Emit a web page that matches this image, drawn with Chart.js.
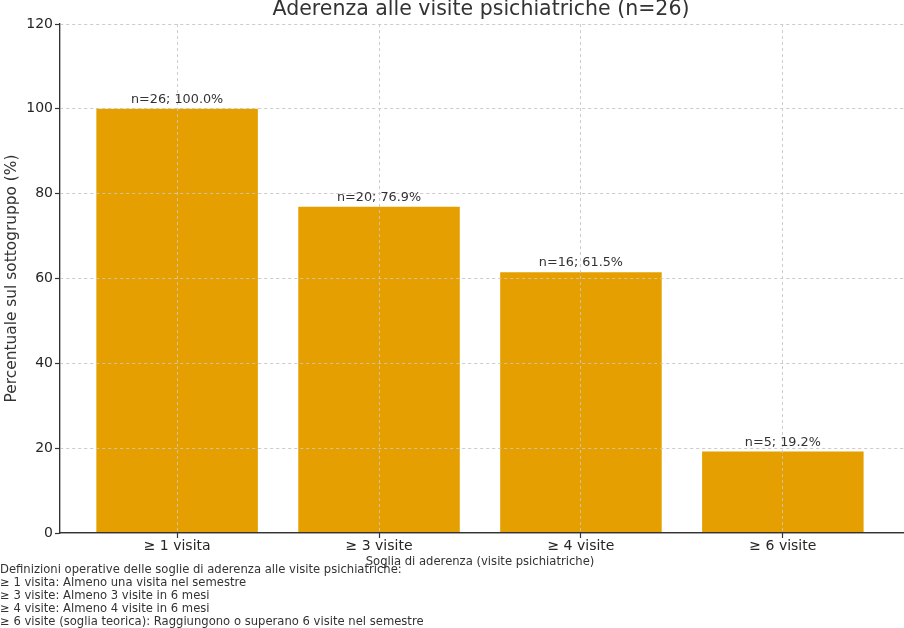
<!DOCTYPE html>
<html lang="it">
<head>
<meta charset="utf-8">
<title>Aderenza alle visite psichiatriche</title>
<script src="https://cdn.jsdelivr.net/npm/chart.js@4.4.1/dist/chart.umd.min.js"></script>
<style>
  html, body { margin: 0; padding: 0; background: #ffffff; }
  #wrap { width: 904px; height: 628px; }
</style>
</head>
<body>
<div id="wrap"><canvas id="c" width="904" height="628"></canvas></div>
<script>
const categories = ["≥ 1 visita", "≥ 3 visite", "≥ 4 visite", "≥ 6 visite"];
const counts = [26, 20, 16, 5];
const percentages = [100.0, 76.9, 61.5, 19.2];
const yTicks = [0, 20, 40, 60, 80, 100, 120];
const chartTitle = "Aderenza alle visite psichiatriche (n=26)";
const xTitle = "Soglia di aderenza (visite psichiatriche)";
const yTitle = "Percentuale sul sottogruppo (%)";
const footnoteLines = [
  "Definizioni operative delle soglie di aderenza alle visite psichiatriche:",
  "≥ 1 visita: Almeno una visita nel semestre",
  "≥ 3 visite: Almeno 3 visite in 6 mesi",
  "≥ 4 visite: Almeno 4 visite in 6 mesi",
  "≥ 6 visite (soglia teorica): Raggiungono o superano 6 visite nel semestre"
];

const FONT = "'DejaVu Sans', sans-serif";
const TEXT = "#333333";
const BAR = "#E69F00";

const barData = categories.map((c, i) => ({ x: i, y: percentages[i] }));

const overlayPlugin = {
  id: 'overlay',
  afterDatasetsDraw(chart) {
    const ctx = chart.ctx;
    // redraw grid on top of bars (as in the reference)
    ['x', 'y'].forEach(id => {
      const s = chart.scales[id];
      s.drawGrid(chart.chartArea);
      s.drawBorder();
    });
    // value labels above bars
    const meta = chart.getDatasetMeta(0);
    ctx.save();
    ctx.fillStyle = TEXT;
    ctx.font = "12.8px " + FONT;
    ctx.textAlign = 'center';
    ctx.textBaseline = 'alphabetic';
    meta.data.forEach((el, i) => {
      ctx.fillText('n=' + counts[i] + '; ' + percentages[i].toFixed(1) + '%', el.x, el.y - 6);
    });
    ctx.restore();
  },
  afterDraw(chart) {
    const ctx = chart.ctx;
    const area = chart.chartArea;
    ctx.save();
    // title
    ctx.fillStyle = TEXT;
    ctx.font = "20.5px " + FONT;
    ctx.textAlign = 'center';
    ctx.textBaseline = 'middle';
    ctx.fillText(chartTitle, (area.left + area.right) / 2 - 1, 10);
    // x axis title
    ctx.font = "11.6px " + FONT;
    ctx.fillText(xTitle, (area.left + area.right) / 2 - 2, 562);
    // y axis title
    ctx.save();
    ctx.font = "15.4px " + FONT;
    ctx.translate(12, (area.top + area.bottom) / 2);
    ctx.rotate(-Math.PI / 2);
    ctx.fillText(yTitle, 0, 0);
    ctx.restore();
    // footnote
    ctx.font = "11.6px " + FONT;
    ctx.textAlign = 'left';
    footnoteLines.forEach((line, i) => {
      ctx.fillText(line, 0, 570 + i * 12.9);
    });
    ctx.restore();
  }
};

new Chart(document.getElementById('c'), {
  type: 'bar',
  data: {
    datasets: [{
      data: barData,
      backgroundColor: BAR,
      borderWidth: 0,
      barPercentage: 0.8,
      categoryPercentage: 1.0
    }]
  },
  options: {
    responsive: false,
    animation: false,
    devicePixelRatio: 1,
    layout: { padding: { top: 24, right: 0, bottom: 0, left: 0 } },
    plugins: {
      legend: { display: false },
      tooltip: { enabled: false },
      title: { display: false }
    },
    scales: {
      x: {
        type: 'linear',
        offset: false,
        min: -0.58,
        max: 3.6,
        afterBuildTicks: (axis) => { axis.ticks = categories.map((c, i) => ({ value: i })); },
        afterFit: (axis) => { axis.height = 95; },
        ticks: {
          callback: (v) => categories[v],
          color: '#262626',
          font: { family: FONT, size: 14 },
          padding: 0,
          maxRotation: 0,
          autoSkip: false
        },
        grid: {
          offset: false,
          color: '#cccccc',
          lineWidth: 0.8,
          tickLength: 5,
          tickColor: '#333333',
          tickWidth: 1.1
        },
        border: { display: true, color: '#333333', width: 1.2, dash: [3, 3] }
      },
      y: {
        min: 0,
        max: 120,
        afterBuildTicks: (axis) => { axis.ticks = yTicks.map(v => ({ value: v })); },
        afterFit: (axis) => { axis.width = 60; },
        ticks: {
          color: '#262626',
          font: { family: FONT, size: 14 },
          padding: 2
        },
        grid: {
          color: (ctx) => (ctx.tick && ctx.tick.value === 0) ? 'rgba(0,0,0,0)' : '#cccccc',
          lineWidth: 0.8,
          tickLength: 5,
          tickColor: '#333333',
          tickWidth: 1.1
        },
        border: { display: true, color: '#333333', width: 1.2, dash: [3, 3] }
      }
    }
  },
  plugins: [overlayPlugin]
});
</script>
</body>
</html>
